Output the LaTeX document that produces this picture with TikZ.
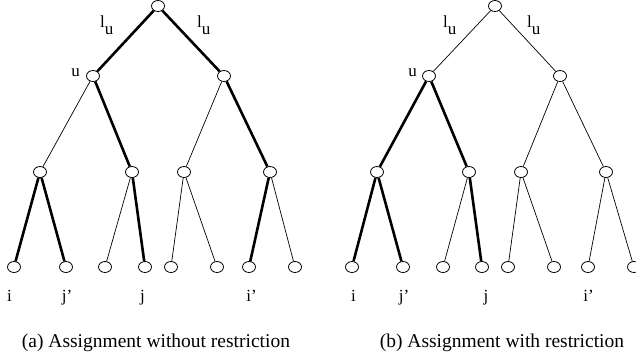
\documentclass[tikz,border=0pt]{standalone}
\usepackage{fontspec}
\setmainfont{Liberation Serif}
\usetikzlibrary{shapes.geometric}
\tikzset{
  nd/.style={ellipse,draw,line width=0.8pt,minimum width=13pt,minimum height=11pt,inner sep=0pt,fill=white},
  thinedge/.style={line width=0.7pt},
  thickedge/.style={line width=2.6pt},
  lbl/.style={font=\fontsize{17}{19}\selectfont,inner sep=0pt,anchor=base},
  lulbl/.style={font=\fontsize{17}{19}\selectfont,inner sep=0pt,anchor=base west},
  captext/.style={font=\fontsize{19.5}{22}\selectfont,inner sep=0pt,anchor=base}
}
\newcommand{\lusub}{l\raisebox{-7pt}{u}}
\begin{document}
\begin{tikzpicture}[x=1pt,y=-1pt]
\useasboundingbox (0,0) rectangle (636,360);
% ---------- left tree ----------
\node[nd] (ar) at (158,6) {};
\node[nd] (au) at (93,76) {};
\node[nd] (av) at (224,76) {};
\node[nd] (a1) at (40,172) {};
\node[nd] (a2) at (132,172) {};
\node[nd] (a3) at (184,172) {};
\node[nd] (a4) at (270,172) {};
\node[nd] (l1) at (14,267) {};
\node[nd] (l2) at (66,267) {};
\node[nd] (l3) at (105,267) {};
\node[nd] (l4) at (145,267) {};
\node[nd] (l5) at (171,267) {};
\node[nd] (l6) at (217,267) {};
\node[nd] (l7) at (249,267) {};
\node[nd] (l8) at (295,267) {};
\draw[thickedge] (ar) -- (au);
\draw[thickedge] (ar) -- (av);
\draw[thinedge] (au) -- (a1);
\draw[thickedge] (au) -- (a2);
\draw[thinedge] (av) -- (a3);
\draw[thickedge] (av) -- (a4);
\draw[thickedge] (a1) -- (l1);
\draw[thickedge] (a1) -- (l2);
\draw[thinedge] (a2) -- (l3);
\draw[thickedge] (a2) -- (l4);
\draw[thinedge] (a3) -- (l5);
\draw[thinedge] (a3) -- (l6);
\draw[thickedge] (a4) -- (l7);
\draw[thinedge] (a4) -- (l8);
\node[lulbl] (alu1) at (100,27) {\lusub};
\node[lulbl] (alu2) at (197,27) {\lusub};
\node[lbl] (aulab) at (75.5,76) {u};
\node[lbl] (ai) at (9.5,301) {i};
\node[lbl] (ajp) at (67,301) {j’};
\node[lbl] (aj) at (142.5,301) {j};
\node[lbl] (aip) at (251.5,301) {i’};
\node[captext] (capa) at (156,347) {(a) Assignment without restriction};
% ---------- right tree ----------
\node[nd] (br) at (495,6) {};
\node[nd] (bu) at (429,76) {};
\node[nd] (bv) at (560,76) {};
\node[nd] (b1) at (377,172) {};
\node[nd] (b2) at (469,172) {};
\node[nd] (b3) at (521,172) {};
\node[nd] (b4) at (606,172) {};
\node[nd] (m1) at (352,267) {};
\node[nd] (m2) at (403,267) {};
\node[nd] (m3) at (443,267) {};
\node[nd] (m4) at (482,267) {};
\node[nd] (m5) at (508,267) {};
\node[nd] (m6) at (554,267) {};
\node[nd] (m7) at (588,267) {};
\node[nd] (m8) at (634,267) {};
\draw[thinedge] (br) -- (bu);
\draw[thinedge] (br) -- (bv);
\draw[thickedge] (bu) -- (b1);
\draw[thickedge] (bu) -- (b2);
\draw[thinedge] (bv) -- (b3);
\draw[thinedge] (bv) -- (b4);
\draw[thickedge] (b1) -- (m1);
\draw[thickedge] (b1) -- (m2);
\draw[thinedge] (b2) -- (m3);
\draw[thickedge] (b2) -- (m4);
\draw[thinedge] (b3) -- (m5);
\draw[thinedge] (b3) -- (m6);
\draw[thinedge] (b4) -- (m7);
\draw[thinedge] (b4) -- (m8);
\node[lulbl] (blu1) at (443,27) {\lusub};
\node[lulbl] (blu2) at (527,27) {\lusub};
\node[lbl] (bulab) at (412.5,76) {u};
\node[lbl] (bi) at (353.5,301) {i};
\node[lbl] (bjp) at (404,301) {j’};
\node[lbl] (bj) at (486,301) {j};
\node[lbl] (bip) at (588.5,301) {i’};
\node[captext] (capb) at (502,347) {(b) Assignment with restriction};
\end{tikzpicture}
\end{document}
